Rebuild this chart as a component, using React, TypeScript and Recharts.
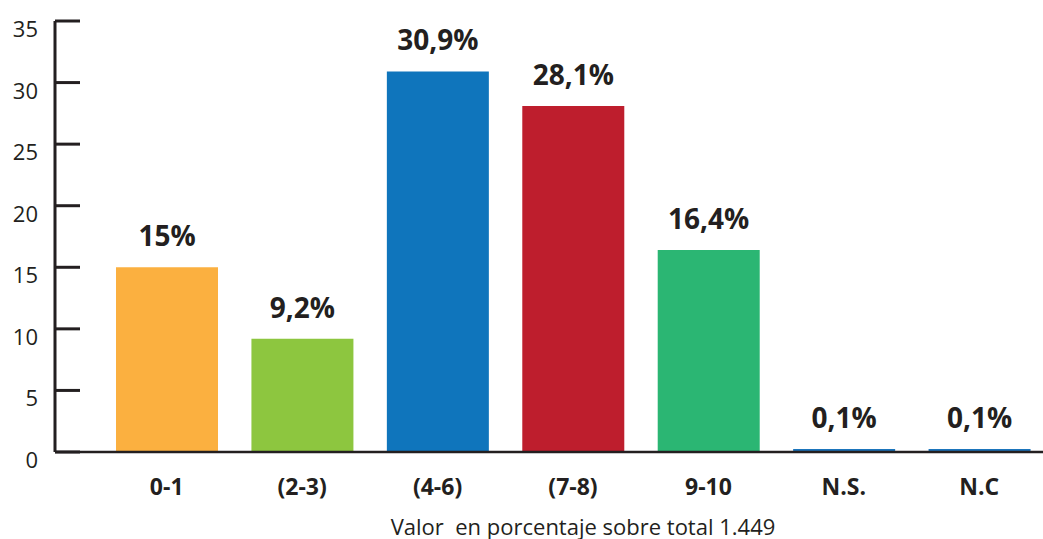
import { BarChart, Bar, XAxis, YAxis, Cell, LabelList } from "recharts";

const categories = ["0-1", "(2-3)", "(4-6)", "(7-8)", "9-10", "N.S.", "N.C"];
const values = [15, 9.2, 30.9, 28.1, 16.4, 0.1, 0.1];
const valueLabels = ["15%", "9,2%", "30,9%", "28,1%", "16,4%", "0,1%", "0,1%"];
const colors = ["#FBB040", "#8DC63F", "#0F75BC", "#BE1E2D", "#2BB673", "#1B75BC", "#1B75BC"];
const yTicks = [0, 5, 10, 15, 20, 25, 30, 35];

const data = categories.map((c, i) => ({ name: c, value: values[i], label: valueLabels[i] }));

const ink = "#231F20";
const font = "'Open Sans', 'DejaVu Sans', sans-serif";

function YTick(props: any) {
  const { x, y, payload } = props;
  return (
    <g>
      <line x1={x + 17} x2={x + 42} y1={y} y2={y} stroke={ink} strokeWidth={3} />
      <text x={x} y={y + 16} textAnchor="end" fill={ink} fontSize={22} fontFamily={font}>
        {payload.value}
      </text>
    </g>
  );
}

function XTick(props: any) {
  const { x, y, payload } = props;
  return (
    <text x={x} y={y + 35} textAnchor="middle" fill={ink} fontSize={23} fontWeight="bold" fontFamily={font}>
      {payload.value}
    </text>
  );
}

export default function App() {
  return (
    <div style={{ position: "absolute", left: 0, top: 0, width: 1043, height: 539, background: "#fff" }}>
      <BarChart
        width={1043}
        height={539}
        data={data}
        margin={{ top: 21, right: -4, bottom: 0, left: 0 }}
      >
        <YAxis
          domain={[0, 35]}
          ticks={yTicks}
          width={55}
          tickSize={8}
          tickMargin={9}
          tickLine={false}
          axisLine={{ stroke: ink, strokeWidth: 3 }}
          tick={<YTick />}
          interval={0}
        />
        <XAxis
          dataKey="name"
          height={87}
          padding={{ left: 44, right: 0 }}
          tickLine={false}
          axisLine={{ stroke: ink, strokeWidth: 2.5 }}
          tick={<XTick />}
          interval={0}
        />
        <Bar dataKey="value" barSize={102} minPointSize={3} isAnimationActive={false}>
          {data.map((d, i) => (
            <Cell key={d.name} fill={colors[i]} />
          ))}
          <LabelList
            dataKey="label"
            position="top"
            offset={21}
            fill={ink}
            fontSize={28}
            fontWeight="bold"
            fontFamily={font}
          />
        </Bar>
      </BarChart>
      <div
        style={{
          position: "absolute",
          left: 0,
          width: 1166,
          top: 511,
          textAlign: "center",
          fontFamily: font,
          fontSize: 22,
          color: ink,
          whiteSpace: "pre",
        }}
      >
        {"Valor  en porcentaje sobre total 1.449"}
      </div>
    </div>
  );
}
